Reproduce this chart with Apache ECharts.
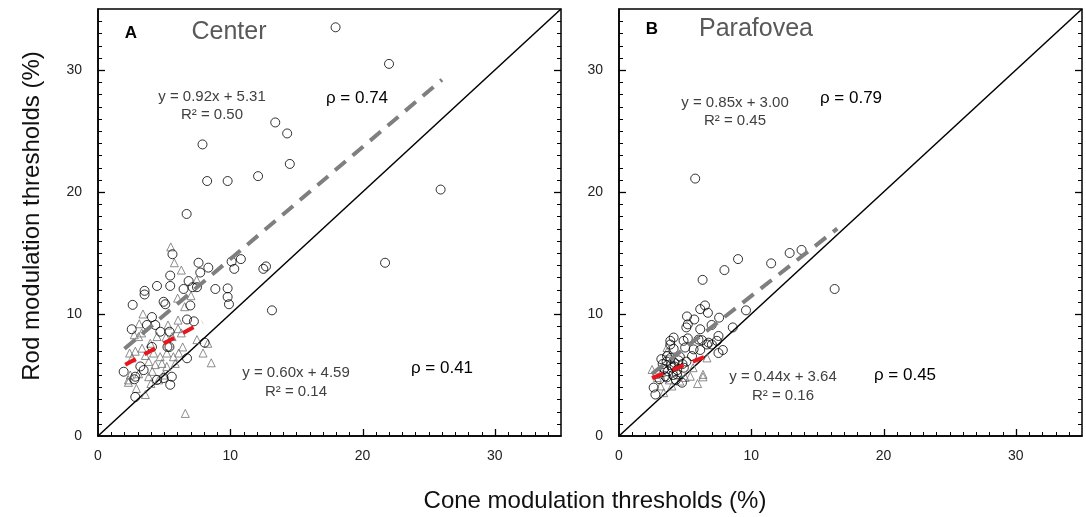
<!DOCTYPE html>
<html><head><meta charset="utf-8">
<script src="https://cdn.jsdelivr.net/npm/echarts@6/dist/echarts.min.js"></script>
<style>html,body{margin:0;padding:0;background:#fff}#c{width:1086px;height:517px}</style>
</head><body><div id="c"></div>
<script>
// ---- data ----
const axisTicks = [0, 10, 20, 30];
const minorTicks = [1,2,3,4,5,6,7,8,9,11,12,13,14,15,16,17,18,19,21,22,23,24,25,26,27,28,29,31,32,33,34];

const centerCircles = [
  [17.96,33.5],[22.0,30.5],[13.4,25.7],[14.3,24.8],[7.9,23.9],[14.5,22.3],[8.25,20.9],[9.8,20.9],
  [12.1,21.3],[25.9,20.2],[6.7,18.2],[21.7,14.2],[13.15,10.3],
  [5.63,14.9],[7.6,14.2],[8.34,13.8],[7.73,13.4],[5.46,13.15],[5.46,12.3],[6.85,12.7],[6.47,12.05],
  [7.15,12.2],[7.48,12.2],[6.98,10.7],[4.96,11.0],[5.09,10.8],[4.46,12.3],[3.52,11.9],[3.52,11.6],
  [2.62,10.75],[4.08,9.75],[3.7,9.1],[4.33,9.1],[2.55,8.75],[4.71,8.55],[5.41,8.55],[6.73,9.55],
  [7.25,9.4],[8.87,12.05],[9.8,12.1],[9.8,11.4],[9.9,10.8],[10.1,14.3],[10.8,14.5],[10.3,13.7],
  [12.5,13.7],[12.7,13.9],
  [8.06,7.65],[5.25,7.3],[5.4,7.3],[4.08,7.3],[6.73,6.37],[1.94,5.27],[3.2,5.7],[3.45,5.4],
  [2.82,4.86],[2.75,4.65],[4.46,4.6],[4.96,4.75],[5.58,4.86],[5.46,4.2],[2.82,3.2]
];
const centerTriangles = [
  [5.5,15.5],[5.77,14.2],[6.3,13.6],[7.46,12.8],[6.02,11.3],[6.55,10.6],[7.03,11.5],[6.05,9.5],
  [3.4,10.0],[3.12,9.2],[3.3,8.45],[3.07,8.15],[2.74,8.3],[5.29,9.1],[5.14,8.1],[6.05,8.8],
  [6.3,8.45],[5.6,8.15],[4.46,8.15],[3.95,7.6],[7.48,7.9],[8.3,7.6],[7.94,6.8],[8.56,6.0],
  [6.6,1.85],[3.58,3.4],[2.39,6.8],[2.82,6.95],[3.33,7.2],[3.58,6.6],[4.2,6.8],[4.7,6.5],
  [5.2,6.8],[5.7,6.5],[6.1,6.8],[3.83,6.1],[4.33,5.85],[4.83,5.95],[5.2,5.7],[5.84,5.95],
  [2.3,4.6],[2.44,5.0],[3.07,5.1],[3.83,4.86],[2.3,4.4],[4.96,5.0],[4.58,4.6],[2.57,6.4],
  [4.1,5.3],[6.4,7.3],[2.9,3.9],[4.0,4.3]
];
const paraCircles = [
  [5.76,21.1],[9.0,14.5],[7.97,13.6],[6.32,12.8],[11.5,14.15],[12.9,15.0],[13.8,15.25],[16.3,12.05],
  [9.6,10.3],[6.5,10.7],[6.14,10.4],[6.72,10.1],[5.14,9.8],[5.69,9.55],[7.57,9.7],[5.2,9.15],
  [5.09,8.9],[7.0,9.1],[6.14,8.75],[8.6,8.9],[3.88,7.8],[5.2,8.0],[6.27,7.85],[7.52,8.2],
  [7.4,7.8],[6.65,7.5],[4.13,7.15],[5.0,7.25],[6.14,7.05],[7.85,7.05],[7.52,6.8],[5.52,6.55],
  [4.13,8.07],[4.88,7.8],[6.01,7.9],[6.77,7.65],[3.88,7.5],[5.64,7.1],[7.02,7.5],[3.63,6.55],
  [3.3,5.9],[3.6,6.1],[3.9,5.8],[4.2,6.0],[4.5,6.2],[4.8,5.9],[3.4,5.5],[3.7,5.3],[4.0,5.6],
  [4.4,5.4],[4.9,5.6],[3.2,6.3],[3.5,4.9],[4.1,5.0],[4.6,6.5],[5.1,6.1],[2.9,5.1],[4.38,5.05],
  [2.62,3.97],[2.75,3.4],[4.76,4.37],[3.07,4.65],[3.6,4.8],[4.3,4.6],[3.9,6.4],[4.2,5.7]
];
const paraTriangles = [
  [3.63,7.25],[3.63,6.9],[2.5,5.45],[6.35,5.05],[6.35,4.85],[5.94,4.3],[5.39,4.9],[6.65,6.4],
  [3.13,4.1],[3.38,3.55],[4.0,4.1],[4.6,4.5],[5.0,4.8],[3.2,5.2],[3.8,4.6],[2.9,4.8],[4.5,5.2],[5.6,5.6]
];
const identityLine = [[0,0],[35,35]];
const centerCircleFit = [[2.0,7.15],[26.0,29.2]];
const centerTriangleFit = [[2.06,5.83],[7.9,9.33]];
const paraCircleFit = [[2.5,5.1],[16.5,17.0]];
const paraTriangleFit = [[2.5,4.74],[6.8,6.63]];

// ---- chart ----
const FONT = 'Liberation Sans, Arial, sans-serif';
const AX_MIN = 0, AX_MAX = 35;
const chart = echarts.init(document.getElementById('c'));

function axisOpt(g, pos, margin) {
  return { gridIndex: g, type: 'value', position: pos, min: AX_MIN, max: AX_MAX, interval: 10,
    axisLine: { show: true, onZero: false, lineStyle: { color: '#000', width: 1.5 } },
    splitLine: { show: false },
    axisTick: { show: false },
    axisLabel: { show: true, margin: margin, fontSize: 14, color: '#222', fontFamily: FONT,
      showMaxLabel: false,
      formatter: v => axisTicks.indexOf(v) >= 0 ? String(v) : '' } };
}

function panelSeries(xi, yi, circles, triangles, cFit, tFit) {
  return [
    { type: 'line', xAxisIndex: xi, yAxisIndex: yi, data: identityLine, symbol: 'none', silent: true,
      lineStyle: { color: '#000', width: 1.5 }, z: 2 },
    { type: 'scatter', xAxisIndex: xi, yAxisIndex: yi, data: triangles, symbol: 'triangle', symbolSize: 8,
      itemStyle: { color: 'rgba(0,0,0,0)', borderColor: '#707070', borderWidth: 1 }, z: 3 },
    { type: 'scatter', xAxisIndex: xi, yAxisIndex: yi, data: circles, symbol: 'circle', symbolSize: 9,
      itemStyle: { color: 'rgba(0,0,0,0)', borderColor: '#000', borderWidth: 1 }, z: 3 },
    { type: 'line', xAxisIndex: xi, yAxisIndex: yi, data: cFit, symbol: 'none', silent: true,
      lineStyle: { color: '#7f7f7f', width: 4, type: [14, 9] }, z: 5 },
    { type: 'line', xAxisIndex: xi, yAxisIndex: yi, data: tFit, symbol: 'none', silent: true,
      lineStyle: { color: '#e8151b', width: 4, type: [12, 10] }, z: 6 }
  ];
}

function txt(x, y, s, size, color, weight, rot) {
  return { type: 'text', x: x, y: y, rotation: rot || 0, z: 100,
    style: { text: s, fontSize: size, fill: color, fontFamily: FONT, fontWeight: weight || 'normal',
      align: 'center', verticalAlign: 'middle' } };
}

const texts = [
  txt(131, 33, 'A', 17, '#000', 'bold'),
  txt(229, 32, 'Center', 25, '#595959'),
  txt(212, 97, 'y = 0.92x + 5.31', 15, '#404040'),
  txt(212, 115, 'R\u00b2 = 0.50', 15, '#404040'),
  txt(357, 98, '\u03c1 = 0.74', 17, '#000'),
  txt(296, 373, 'y = 0.60x + 4.59', 15, '#404040'),
  txt(296, 392, 'R\u00b2 = 0.14', 15, '#404040'),
  txt(442, 368, '\u03c1 = 0.41', 17, '#000'),
  txt(652, 29, 'B', 17, '#000', 'bold'),
  txt(756, 29, 'Parafovea', 25, '#595959'),
  txt(735, 103, 'y = 0.85x + 3.00', 15, '#404040'),
  txt(735, 121, 'R\u00b2 = 0.45', 15, '#404040'),
  txt(851, 98, '\u03c1 = 0.79', 17, '#000'),
  txt(783, 377, 'y = 0.44x + 3.64', 15, '#404040'),
  txt(783, 396, 'R\u00b2 = 0.16', 15, '#404040'),
  txt(905, 375, '\u03c1 = 0.45', 17, '#000'),
  txt(595, 501, 'Cone modulation thresholds (%)', 24, '#111'),
  txt(32, 216, 'Rod modulation thresholds (%)', 24, '#111', 'normal', Math.PI / 2)
];

const option = {
  backgroundColor: '#fff',
  animation: false,
  grid: [
    { left: 98, top: 9, width: 463, height: 427, show: true, borderColor: '#000', borderWidth: 1.5 },
    { left: 619, top: 9, width: 463, height: 427, show: true, borderColor: '#000', borderWidth: 1.5 }
  ],
  xAxis: [ axisOpt(0, 'bottom', 13), axisOpt(1, 'bottom', 13) ],
  yAxis: [ axisOpt(0, 'left', 16), axisOpt(1, 'left', 16) ],
  series: [
    ...panelSeries(0, 0, centerCircles, centerTriangles, centerCircleFit, centerTriangleFit),
    ...panelSeries(1, 1, paraCircles, paraTriangles, paraCircleFit, paraTriangleFit)
  ]
};
chart.setOption(option);

// inward tick marks, positioned through each panel's own axis scales
function tickLine(x1, y1, x2, y2, w) {
  return { type: 'line', z: 50, silent: true, shape: { x1: x1, y1: y1, x2: x2, y2: y2 },
    style: { stroke: '#000', lineWidth: w } };
}
const tickGraphics = [];
[0, 1].forEach(g => {
  const px = v => chart.convertToPixel({ xAxisIndex: g }, v);
  const py = v => chart.convertToPixel({ yAxisIndex: g }, v);
  const bottomY = py(AX_MIN), leftX = px(AX_MIN), rightX = px(AX_MAX);
  const add = (v, len, w) => {
    const bx = Math.round(px(v)) + 0.5, ly = Math.round(py(v)) + 0.5;
    if (isFinite(bx) && isFinite(bottomY)) tickGraphics.push(tickLine(bx, bottomY, bx, bottomY - len, w));
    if (isFinite(ly) && isFinite(leftX)) {
      tickGraphics.push(tickLine(leftX, ly, leftX + len, ly, w));
      tickGraphics.push(tickLine(rightX, ly, rightX - len, ly, w));
    }
  };
  minorTicks.forEach(v => add(v, 4, 1));
  axisTicks.slice(1).forEach(v => add(v, 7, 1.3));
});
chart.setOption({ graphic: texts.concat(tickGraphics) });
</script></body></html>
